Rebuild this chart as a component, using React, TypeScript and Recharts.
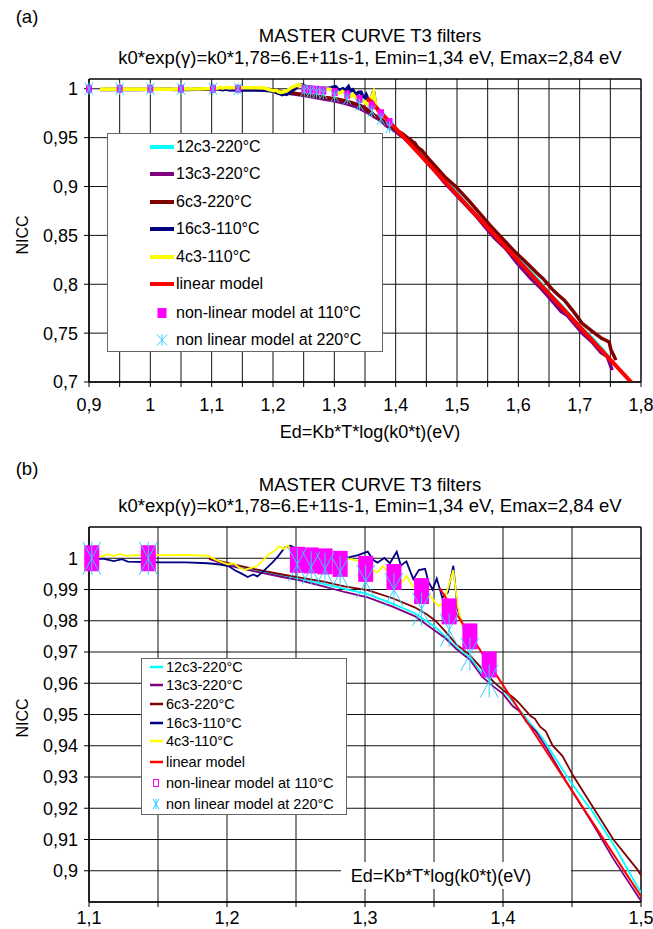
import React from 'react';
import {
  CartesianGrid,
  ComposedChart,
  Label,
  Legend,
  Line,
  ReferenceArea,
  Scatter,
  XAxis,
  YAxis,
} from 'recharts';

const FONT = '"Liberation Sans", Arial, Helvetica, sans-serif';

// [Ed (eV), NICC]
const nicc12c3 = [
  [1.19, 0.9998], [1.2, 0.998], [1.22, 0.996], [1.24, 0.9945], [1.252, 0.9935], [1.27, 0.9918],
  [1.285, 0.9902], [1.302, 0.9885], [1.32, 0.9855], [1.336, 0.9824], [1.351, 0.978], [1.358, 0.975],
  [1.366, 0.9715], [1.376, 0.968], [1.385, 0.963], [1.393, 0.9605], [1.4, 0.958], [1.41, 0.9525],
  [1.42, 0.947], [1.429, 0.9422], [1.449, 0.9284], [1.465, 0.9188], [1.48, 0.9085], [1.497, 0.8952],
  [1.52, 0.879], [1.55, 0.858], [1.58, 0.838], [1.6, 0.8255], [1.63, 0.806], [1.65, 0.791],
  [1.67, 0.778], [1.7, 0.757], [1.72, 0.745], [1.74, 0.731], [1.755, 0.718],
];

const nicc13c3 = [
  [1.187, 0.9998], [1.2, 0.9978], [1.22, 0.9958], [1.24, 0.994], [1.252, 0.993], [1.27, 0.991],
  [1.285, 0.9892], [1.302, 0.9875], [1.32, 0.9845], [1.336, 0.9815], [1.351, 0.9767], [1.358, 0.9745],
  [1.366, 0.971], [1.376, 0.9675], [1.385, 0.962], [1.393, 0.959], [1.4, 0.9566], [1.407, 0.9527],
  [1.412, 0.951], [1.417, 0.9476], [1.424, 0.9445], [1.432, 0.939], [1.446, 0.9284], [1.465, 0.915],
  [1.48, 0.9038], [1.498, 0.8917], [1.53, 0.8705], [1.56, 0.848], [1.58, 0.836], [1.597, 0.8225],
  [1.62, 0.806], [1.635, 0.797], [1.65, 0.7867], [1.67, 0.772], [1.68, 0.768], [1.704, 0.75],
  [1.72, 0.741], [1.735, 0.73], [1.745, 0.726], [1.753, 0.7122],
];

const nicc6c3 = [
  [1.187, 1.0], [1.2, 0.9985], [1.22, 0.9965], [1.24, 0.9948], [1.252, 0.9939], [1.27, 0.9925],
  [1.285, 0.991], [1.302, 0.9898], [1.32, 0.9872], [1.336, 0.9843], [1.345, 0.982], [1.351, 0.98],
  [1.358, 0.9767], [1.366, 0.9725], [1.376, 0.969], [1.385, 0.9645], [1.393, 0.9605], [1.4, 0.9578],
  [1.407, 0.9556], [1.412, 0.9535], [1.42, 0.9495], [1.423, 0.9487], [1.427, 0.946], [1.431, 0.9446],
  [1.436, 0.94], [1.443, 0.9368], [1.451, 0.9303], [1.465, 0.9205], [1.48, 0.91], [1.497, 0.9006],
  [1.52, 0.885], [1.553, 0.861], [1.575, 0.846], [1.597, 0.8316], [1.61, 0.824], [1.62, 0.818],
  [1.629, 0.8122], [1.64, 0.806], [1.647, 0.801], [1.655, 0.795], [1.665, 0.789], [1.675, 0.7837],
  [1.69, 0.772], [1.704, 0.76], [1.72, 0.752], [1.735, 0.745], [1.748, 0.741], [1.751, 0.733],
  [1.755, 0.728], [1.759, 0.7224],
];

const nicc16c3 = [
  [0.918, 0.9993], [0.95, 0.9996], [0.98, 0.9992], [1.0, 0.9994], [1.03, 0.9996], [1.05, 0.9993],
  [1.08, 0.9995], [1.1, 0.9995], [1.11, 0.9999], [1.118, 0.9991], [1.124, 0.9997], [1.128, 0.9989],
  [1.14, 0.9988], [1.153, 0.9987], [1.17, 0.9987], [1.186, 0.9984], [1.195, 0.998], [1.201, 0.9975],
  [1.206, 0.9961], [1.211, 0.995], [1.215, 0.994], [1.219, 0.9948], [1.222, 0.9942], [1.226, 0.9957],
  [1.233, 0.9987], [1.237, 1.0006], [1.242, 1.0035], [1.246, 1.004], [1.255, 1.002], [1.27, 1.0008],
  [1.288, 1.0003], [1.295, 1.001], [1.302, 1.0021], [1.306, 0.9994], [1.309, 0.9986], [1.314, 1.0001],
  [1.318, 0.9984], [1.323, 1.0021], [1.326, 0.9977], [1.33, 0.999], [1.335, 0.9933], [1.339, 0.9962],
  [1.3435, 0.9966], [1.346, 0.9924], [1.349, 0.99], [1.352, 0.9935], [1.356, 0.9874], [1.36, 0.989],
  [1.364, 0.9976], [1.367, 0.984], [1.371, 0.978], [1.375, 0.9733],
];

const nicc4c3 = [
  [0.918, 0.9995], [0.95, 0.9998], [0.98, 0.9994], [1.0, 0.9997], [1.03, 0.9995], [1.05, 0.9998],
  [1.08, 0.9997], [1.109, 1.0006], [1.114, 1.0012], [1.118, 1.0007], [1.122, 1.0014], [1.127, 1.0008],
  [1.135, 1.001], [1.15, 1.001], [1.17, 1.0011], [1.186, 1.0008], [1.192, 0.9995], [1.197, 0.9986],
  [1.201, 0.998], [1.205, 0.9984], [1.209, 0.9969], [1.213, 0.9963], [1.218, 0.997], [1.222, 0.9975],
  [1.226, 0.9993], [1.23, 1.0012], [1.234, 1.0022], [1.238, 1.0038], [1.241, 1.003], [1.244, 1.0041],
  [1.248, 1.002], [1.26, 1.0006], [1.27, 1.0001], [1.28, 0.9998], [1.29, 0.9997], [1.296, 0.999],
  [1.3, 0.9982], [1.304, 0.9964], [1.309, 0.9955], [1.313, 0.9974], [1.317, 0.9957], [1.322, 0.9946],
  [1.327, 0.9923], [1.33, 0.9944], [1.334, 0.9914], [1.338, 0.9901], [1.342, 0.9896], [1.346, 0.9884],
  [1.349, 0.987], [1.353, 0.9847], [1.357, 0.9856], [1.361, 0.9918], [1.364, 0.9962], [1.367, 0.9852],
  [1.37, 0.9792], [1.374, 0.9748],
];

const linearModel = [[1.354, 0.9905], [1.8, 0.689]];

const model110 = [
  [0.9, 1], [0.95, 1], [1.0, 1], [1.05, 1], [1.102, 1], [1.143, 1],
  [1.251, 0.9995], [1.261, 0.9993], [1.271, 0.999], [1.282, 0.9982], [1.3005, 0.9966],
  [1.321, 0.994], [1.341, 0.9895], [1.361, 0.983], [1.376, 0.975], [1.39, 0.966],
];

const model220 = [
  [0.9, 1], [0.95, 1], [1.0, 1], [1.05, 1], [1.102, 1], [1.143, 1],
  [1.251, 0.998], [1.261, 0.997], [1.271, 0.9965], [1.282, 0.9955], [1.3005, 0.9926],
  [1.321, 0.99], [1.341, 0.9837], [1.361, 0.977], [1.376, 0.9693], [1.39, 0.9607],
];

const ticksXA = [0.9, 0.95, 1, 1.05, 1.1, 1.15, 1.2, 1.25, 1.3, 1.35, 1.4, 1.45, 1.5, 1.55, 1.6, 1.65, 1.7, 1.75, 1.8];
const ticksYA = [0.7, 0.75, 0.8, 0.85, 0.9, 0.95, 1];
const ticksXB = [1.1, 1.15, 1.2, 1.25, 1.3, 1.35, 1.4, 1.45, 1.5];
const ticksYB = [0.9, 0.91, 0.92, 0.93, 0.94, 0.95, 0.96, 0.97, 0.98, 0.99, 1];

const TITLE = 'MASTER CURVE T3 filters';
const SUBTITLE = 'k0*exp(γ)=k0*1,78=6.E+11s-1, Emin=1,34 eV, Emax=2,84 eV';
const X_TITLE = 'Ed=Kb*T*log(k0*t)(eV)';

const pts = (rows: number[][]) => rows.map(([x, y]) => ({ x, y }));

const curves = [
  { name: '12c3-220°C', color: '#00FFFF', data: pts(nicc12c3) },
  { name: '13c3-220°C', color: '#800080', data: pts(nicc13c3) },
  { name: '6c3-220°C', color: '#800000', data: pts(nicc6c3) },
  { name: '16c3-110°C', color: '#000080', data: pts(nicc16c3) },
  { name: '4c3-110°C', color: '#FFFF00', data: pts(nicc4c3) },
  { name: 'linear model', color: '#FF0000', data: pts(linearModel) },
];
const squares = { name: 'non-linear model at 110°C', color: '#FF00FF', data: pts(model110) };
const stars = { name: 'non linear model at 220°C', color: '#33CCFF', data: pts(model220) };

const comma = (v: number) => String(Number(v.toFixed(2))).replace('.', ',');
const tenth = (v: number) => (Math.abs(v * 10 - Math.round(v * 10)) < 1e-6 ? comma(v) : '');

const panelA = {
  top: 0, height: 450, marginTop: 79, xAxisHeight: 68, xTickMargin: 11,
  xDomain: [0.9, 1.8], yDomain: [0.7, 1.01], xTicks: ticksXA, yTicks: ticksYA,
  lineWidth: 3.5, redWidth: 4, square: [6, 8], star: [8, 12],
  tag: '(a)', tagY: 17, titleY: 36, subY: 58,
  nicc: [22, 235], xTitle: { x: 370, y: 432, box: null as null | number[] },
  legend: {
    x: 107, y: 133, w: 276, h: 219, rows: [13, 40, 68, 95, 123, 150, 179, 206],
    sampleX: 42, sampleW: 24, textX: 68, font: 16, lineW: 4, markX: 54,
    square: [8, 9], hollow: false, star: [10, 11],
  },
};

const panelB = {
  top: 450, height: 479, marginTop: 77, xAxisHeight: 27, xTickMargin: 4,
  xDomain: [1.1, 1.5], yDomain: [0.89, 1.01], xTicks: ticksXB, yTicks: ticksYB,
  lineWidth: 1.8, redWidth: 2, square: [15, 26], star: [18, 33],
  tag: '(b)', tagY: 19, titleY: 35, subY: 56,
  nicc: [22, 268], xTitle: { x: 441, y: 426, box: [341, 412, 230, 27] as null | number[] },
  legend: {
    x: 141, y: 208, w: 206, h: 157, rows: [8, 26, 45, 64, 82, 103, 124, 145],
    sampleX: 8, sampleW: 13, textX: 24, font: 14.5, lineW: 2.5, markX: 14,
    square: [5, 7], hollow: true, star: [6, 10],
  },
};

type Panel = typeof panelA;

const squareShape = (w: number, h: number) => (p: any) => (
  <rect x={p.cx - w / 2} y={p.cy - h / 2} width={w} height={h} fill={squares.color} />
);

const starShape = (w: number, h: number) => (p: any) => (
  <g stroke={stars.color} strokeWidth={1}>
    <line x1={p.cx - w / 2} y1={p.cy - h / 2} x2={p.cx + w / 2} y2={p.cy + h / 2} />
    <line x1={p.cx - w / 2} y1={p.cy + h / 2} x2={p.cx + w / 2} y2={p.cy - h / 2} />
    <line x1={p.cx} y1={p.cy - h / 2} x2={p.cx} y2={p.cy + h / 2} />
  </g>
);

const inside = (data: { x: number; y: number }[], cfg: Panel) =>
  data.filter(
    (p) => p.x >= cfg.xDomain[0] && p.x <= cfg.xDomain[1] && p.y >= cfg.yDomain[0] && p.y <= cfg.yDomain[1],
  );

const Caption = ({ x, y, size, children }: { x: number; y: number; size: number; children: React.ReactNode }) => (
  <div
    style={{
      position: 'absolute', left: x, top: y, transform: 'translate(-50%, -50%)',
      fontSize: size, lineHeight: 1, whiteSpace: 'nowrap',
    }}
  >
    {children}
  </div>
);

const LegendBox = ({ cfg }: { cfg: Panel }) => {
  const L = cfg.legend;
  const rowH = 20;
  const mid = rowH / 2;
  const sample = (i: number) => {
    if (i < curves.length) {
      return (
        <line x1={L.sampleX} y1={mid} x2={L.sampleX + L.sampleW} y2={mid} stroke={curves[i].color} strokeWidth={L.lineW} />
      );
    }
    if (i === curves.length) {
      const [w, h] = L.square;
      return (
        <rect
          x={L.markX - w / 2} y={mid - h / 2} width={w} height={h}
          fill={L.hollow ? 'none' : squares.color} stroke={squares.color} strokeWidth={1}
        />
      );
    }
    return starShape(L.star[0], L.star[1])({ cx: L.markX, cy: mid });
  };
  const names = [...curves.map((c) => c.name), squares.name, stars.name];
  return (
    <div
      style={{
        position: 'relative', width: L.w, height: L.h, boxSizing: 'border-box',
        border: '1px solid #666', background: '#fff', fontFamily: FONT, fontSize: L.font, color: '#000',
      }}
    >
      {names.map((name, i) => (
        <div key={name} style={{ position: 'absolute', left: 0, top: L.rows[i] - mid, width: '100%', height: rowH }}>
          <svg width={L.textX} height={rowH} style={{ position: 'absolute', left: 0, top: 0 }}>
            {sample(i)}
          </svg>
          <span
            style={{
              position: 'absolute', left: L.textX, top: mid, transform: 'translateY(-50%)',
              lineHeight: 1, whiteSpace: 'nowrap',
            }}
          >
            {name}
          </span>
        </div>
      ))}
    </div>
  );
};

const MasterPlot = ({ cfg }: { cfg: Panel }) => (
  <div style={{ position: 'absolute', left: 0, top: cfg.top, width: 653, height: cfg.height }}>
    <Caption x={27} y={cfg.tagY} size={18.5}>{cfg.tag}</Caption>
    <Caption x={370} y={cfg.titleY} size={18.5}>{TITLE}</Caption>
    <Caption x={370} y={cfg.subY} size={18.5}>{SUBTITLE}</Caption>
    <ComposedChart width={653} height={cfg.height} margin={{ top: cfg.marginTop, right: 12, bottom: 0, left: 0 }}>
      <CartesianGrid stroke="#111" strokeWidth={1} />
      <XAxis
        type="number" dataKey="x" domain={cfg.xDomain} ticks={cfg.xTicks} interval={0} allowDataOverflow
        tickFormatter={tenth} height={cfg.xAxisHeight} tickSize={5} tickMargin={cfg.xTickMargin}
        stroke="#000" tick={{ fill: '#000', fontSize: 18 }}
      >
        <Label
          content={() => (
            <g>
              {cfg.xTitle.box && (
                <rect x={cfg.xTitle.box[0]} y={cfg.xTitle.box[1]} width={cfg.xTitle.box[2]} height={cfg.xTitle.box[3]} fill="#fff" />
              )}
              <text x={cfg.xTitle.x} y={cfg.xTitle.y} textAnchor="middle" dominantBaseline="central" fontSize={18} fill="#000">
                {X_TITLE}
              </text>
            </g>
          )}
        />
      </XAxis>
      <YAxis
        type="number" dataKey="y" domain={cfg.yDomain} ticks={cfg.yTicks} interval={0} allowDataOverflow
        tickFormatter={comma} width={89} tickSize={5} tickMargin={6}
        stroke="#000" tick={{ fill: '#000', fontSize: 18 }}
      >
        <Label
          content={() => (
            <text
              x={cfg.nicc[0]} y={cfg.nicc[1]} transform={`rotate(-90 ${cfg.nicc[0]} ${cfg.nicc[1]})`}
              textAnchor="middle" dominantBaseline="central" fontSize={16} fill="#000"
            >
              NICC
            </text>
          )}
        />
      </YAxis>
      <XAxis xAxisId="m" type="number" dataKey="x" domain={cfg.xDomain} hide />
      <YAxis yAxisId="m" type="number" dataKey="y" domain={cfg.yDomain} hide />
      <ReferenceArea
        x1={cfg.xDomain[0]} x2={cfg.xDomain[1]} y1={cfg.yDomain[0]} y2={cfg.yDomain[1]}
        fill="none" fillOpacity={0} stroke="#000" strokeWidth={1} ifOverflow="visible"
      />
      {curves.map((c) => (
        <Line
          key={c.name} data={c.data} dataKey="y" name={c.name} type="linear" stroke={c.color}
          strokeWidth={c.name === 'linear model' ? cfg.redWidth : cfg.lineWidth}
          dot={false} activeDot={false} isAnimationActive={false}
        />
      ))}
      <Scatter
        xAxisId="m" yAxisId="m" data={inside(squares.data, cfg)} name={squares.name}
        shape={squareShape(cfg.square[0], cfg.square[1])} isAnimationActive={false}
      />
      <Scatter
        xAxisId="m" yAxisId="m" data={inside(stars.data, cfg)} name={stars.name}
        shape={starShape(cfg.star[0], cfg.star[1])} isAnimationActive={false}
      />
      <Legend
        layout="vertical" align="center" verticalAlign="middle"
        wrapperStyle={{ left: cfg.legend.x, top: cfg.legend.y, width: cfg.legend.w, height: cfg.legend.h }}
        content={() => <LegendBox cfg={cfg} />}
      />
    </ComposedChart>
  </div>
);

export default function App() {
  return (
    <div
      style={{
        position: 'absolute', left: 0, top: 0, width: 653, height: 929, overflow: 'hidden',
        background: '#fff', fontFamily: FONT, color: '#000',
      }}
    >
      <MasterPlot cfg={panelA} />
      <MasterPlot cfg={panelB} />
    </div>
  );
}
